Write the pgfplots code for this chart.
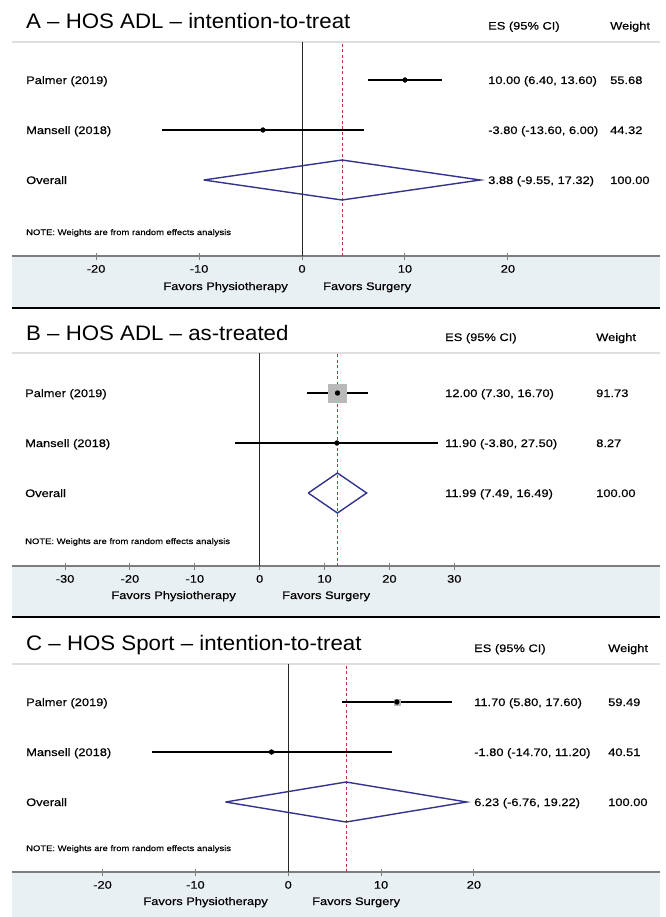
\documentclass[border=0pt]{standalone}
\usepackage{pgfplots}
\pgfplotsset{compat=1.18}
\usepackage{fontspec}
\setmainfont{Liberation Sans}
\newfontfamily\lab[FakeStretch=1.18, FakeBold=0.4]{Liberation Sans}
\newfontfamily\ttl[FakeStretch=1.06]{Liberation Sans}

\definecolor{band}{RGB}{233,240,243}
\definecolor{diam}{RGB}{52,52,140}
\definecolor{refl}{RGB}{185,50,70}
\definecolor{axgray}{RGB}{125,125,125}
\definecolor{hdr}{RGB}{222,222,222}
\definecolor{boxg}{RGB}{185,185,185}

\newcommand{\labfont}{\lab\fontsize{10.9}{13}\selectfont}
\newcommand{\notefont}{\lab\fontsize{8}{10}\selectfont}
\newcommand{\titlefont}{\ttl\fontsize{21}{25}\selectfont}

\pgfplotsset{
  forest/.style={
    width=648pt, scale only axis, anchor=south west,
    axis x line=bottom, axis y line=none,
    x axis line style={-, draw=axgray, line width=1.2pt},
    tick align=center, major tick length=7pt,
    tick style={axgray, line width=1pt},
    tick label style={font=\labfont},
    xticklabel style={yshift=-2pt},
    clip=false,
  },
  ci/.style={black, line width=1.1pt, forget plot},
  pt/.style={only marks, mark=*, mark size=2.4pt, black},
  dmd/.style={diam, line width=1.4pt, line join=miter},
  ref/.style={refl, line width=0.8pt, dash pattern=on 3pt off 2.5pt},
  zero/.style={black!85, line width=0.9pt},
}

\begin{document}
\begin{tikzpicture}
\path[use as bounding box] (0pt,0pt) rectangle (665pt,-917pt);

% bands and rules
\fill[band] (12pt,-256pt) rectangle (660pt,-308pt);
\fill[band] (12pt,-566pt) rectangle (660pt,-617pt);
\fill[band] (12pt,-872pt) rectangle (660pt,-917pt);
\draw[black, line width=2.2pt] (12pt,-308pt) -- (660pt,-308pt);
\draw[black, line width=2.2pt] (12pt,-617pt) -- (660pt,-617pt);
\draw[hdr, line width=1.5pt] (12pt,-42pt) -- (660pt,-42pt);
\draw[hdr, line width=1.5pt] (12pt,-353pt) -- (660pt,-353pt);
\draw[hdr, line width=1.5pt] (12pt,-664pt) -- (660pt,-664pt);

% ---- A
\begin{axis}[forest, at={(12pt,-256pt)}, height=214pt,
  xmin=-28.17, xmax=34.77, ymin=-0.52, ymax=3.76,
  xtick={-20,-10,0,10,20}, xticklabels={-20,-10,0,10,20}]
\addplot[zero] coordinates {(0,-0.52) (0,3.76)};
\addplot[ref] coordinates {(3.88,-0.52) (3.88,3.76)};
\addplot[ci] coordinates {(6.40,3) (13.60,3)};
\addplot[pt] coordinates {(10.00,3)};
\addplot[ci] coordinates {(-13.60,2) (6.00,2)};
\addplot[pt] coordinates {(-3.80,2)};
\addplot[dmd] coordinates {(-9.55,1) (3.88,1.4) (17.32,1) (3.88,0.6) (-9.55,1)};
\end{axis}

% ---- B
\begin{axis}[forest, at={(12pt,-566pt)}, height=213pt,
  xmin=-38.18, xmax=61.71, ymin=-0.46, ymax=3.8,
  xtick={-30,-20,-10,0,10,20,30}, xticklabels={-30,-20,-10,0,10,20,30}]
\addplot[zero] coordinates {(0,-0.46) (0,3.8)};
\addplot[only marks, mark=square*, mark size=9pt, boxg] coordinates {(12.00,3)};
\addplot[ref] coordinates {(11.99,-0.46) (11.99,3.8)};
\addplot[ci] coordinates {(7.30,3) (16.70,3)};
\addplot[pt] coordinates {(12.00,3)};
\addplot[ci] coordinates {(-3.80,2) (27.50,2)};
\addplot[pt] coordinates {(11.90,2)};
\addplot[dmd] coordinates {(7.49,1) (11.99,1.4) (16.49,1) (11.99,0.6) (7.49,1)};
\end{axis}

% ---- C
\begin{axis}[forest, at={(12pt,-872pt)}, height=208pt,
  xmin=-29.75, xmax=40.04, ymin=-0.4, ymax=3.76,
  xtick={-20,-10,0,10,20}, xticklabels={-20,-10,0,10,20}]
\addplot[zero] coordinates {(0,-0.4) (0,3.76)};
\addplot[only marks, mark=square*, mark size=3pt, boxg] coordinates {(11.70,3)};
\addplot[ref] coordinates {(6.23,-0.4) (6.23,3.76)};
\addplot[ci] coordinates {(5.80,3) (17.60,3)};
\addplot[pt] coordinates {(11.70,3)};
\addplot[ci] coordinates {(-14.70,2) (11.20,2)};
\addplot[pt] coordinates {(-1.80,2)};
\addplot[dmd] coordinates {(-6.76,1) (6.23,1.4) (19.22,1) (6.23,0.6) (-6.76,1)};
\end{axis}

% ---- texts A
\begin{scope}[every node/.style={inner sep=0pt}]
\node[anchor=base west, font=\titlefont] at (26pt,-28.5pt) {A – HOS ADL – intention-to-treat};
\node[anchor=base west, font=\labfont] at (488pt,-29.6pt) {ES (95\% CI)};
\node[anchor=base west, font=\labfont] at (610pt,-29.6pt) {Weight};
\node[anchor=base west, font=\labfont] at (26pt,-84pt) {Palmer (2019)};
\node[anchor=base west, font=\labfont] at (26pt,-134pt) {Mansell (2018)};
\node[anchor=base west, font=\labfont] at (26pt,-184pt) {Overall};
\node[anchor=base west, font=\labfont] at (488pt,-84pt) {10.00 (6.40, 13.60)};
\node[anchor=base west, font=\labfont] at (488pt,-134pt) {-3.80 (-13.60, 6.00)};
\node[anchor=base west, font=\labfont] at (488pt,-184pt) {3.88 (-9.55, 17.32)};
\node[anchor=base west, font=\labfont] at (610pt,-84pt) {55.68};
\node[anchor=base west, font=\labfont] at (610pt,-134pt) {44.32};
\node[anchor=base west, font=\labfont] at (610pt,-184pt) {100.00};
\node[anchor=base west, font=\notefont] at (26pt,-235pt) {NOTE: Weights are from random effects analysis};
\node[anchor=base east, font=\labfont] at (288pt,-290pt) {Favors Physiotherapy};
\node[anchor=base west, font=\labfont] at (323pt,-290pt) {Favors Surgery};

% ---- texts B
\node[anchor=base west, font=\titlefont] at (26pt,-340pt) {B – HOS ADL – as-treated};
\node[anchor=base west, font=\labfont] at (445pt,-341pt) {ES (95\% CI)};
\node[anchor=base west, font=\labfont] at (596pt,-341pt) {Weight};
\node[anchor=base west, font=\labfont] at (25pt,-397pt) {Palmer (2019)};
\node[anchor=base west, font=\labfont] at (25pt,-447pt) {Mansell (2018)};
\node[anchor=base west, font=\labfont] at (25pt,-497pt) {Overall};
\node[anchor=base west, font=\labfont] at (445pt,-397pt) {12.00 (7.30, 16.70)};
\node[anchor=base west, font=\labfont] at (445pt,-447pt) {11.90 (-3.80, 27.50)};
\node[anchor=base west, font=\labfont] at (445pt,-497pt) {11.99 (7.49, 16.49)};
\node[anchor=base west, font=\labfont] at (596pt,-397pt) {91.73};
\node[anchor=base west, font=\labfont] at (596pt,-447pt) {8.27};
\node[anchor=base west, font=\labfont] at (596pt,-497pt) {100.00};
\node[anchor=base west, font=\notefont] at (25pt,-544pt) {NOTE: Weights are from random effects analysis};
\node[anchor=base east, font=\labfont] at (236pt,-599pt) {Favors Physiotherapy};
\node[anchor=base west, font=\labfont] at (282pt,-599pt) {Favors Surgery};

% ---- texts C
\node[anchor=base west, font=\titlefont] at (26pt,-650pt) {C – HOS Sport – intention-to-treat};
\node[anchor=base west, font=\labfont] at (474pt,-652pt) {ES (95\% CI)};
\node[anchor=base west, font=\labfont] at (608pt,-652pt) {Weight};
\node[anchor=base west, font=\labfont] at (26pt,-706pt) {Palmer (2019)};
\node[anchor=base west, font=\labfont] at (26pt,-756pt) {Mansell (2018)};
\node[anchor=base west, font=\labfont] at (26pt,-806pt) {Overall};
\node[anchor=base west, font=\labfont] at (474pt,-706pt) {11.70 (5.80, 17.60)};
\node[anchor=base west, font=\labfont] at (474pt,-756pt) {-1.80 (-14.70, 11.20)};
\node[anchor=base west, font=\labfont] at (474pt,-806pt) {6.23 (-6.76, 19.22)};
\node[anchor=base west, font=\labfont] at (608pt,-706pt) {59.49};
\node[anchor=base west, font=\labfont] at (608pt,-756pt) {40.51};
\node[anchor=base west, font=\labfont] at (608pt,-806pt) {100.00};
\node[anchor=base west, font=\notefont] at (26pt,-851pt) {NOTE: Weights are from random effects analysis};
\node[anchor=base east, font=\labfont] at (268pt,-905pt) {Favors Physiotherapy};
\node[anchor=base west, font=\labfont] at (312pt,-905pt) {Favors Surgery};
\end{scope}
\end{tikzpicture}
\end{document}
